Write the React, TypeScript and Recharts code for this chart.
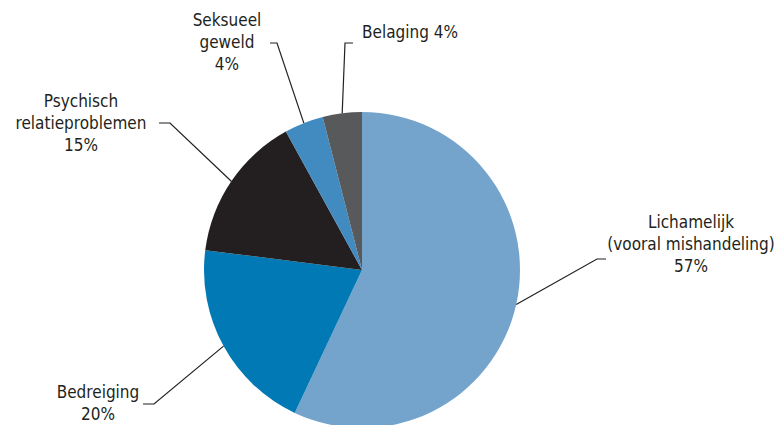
import React from "react";
import { PieChart, Pie, Cell } from "recharts";

const categories = ["Lichamelijk (vooral mishandeling)", "Bedreiging", "Psychisch relatieproblemen", "Seksueel geweld", "Belaging"];
const values = [57, 20, 15, 4, 4];
const labelLines = [
  ["Lichamelijk", "(vooral mishandeling)", "57%"],
  ["Bedreiging", "20%"],
  ["Psychisch", "relatieproblemen", "15%"],
  ["Seksueel", "geweld", "4%"],
  ["Belaging 4%"],
];
const colors = ["#74a4cc", "#0079b5", "#231f20", "#428bc1", "#58595b"];

// label layout relative to pie centre: elbow point, tick end x, text x, first line y, anchor
const labelLayout = [
  { ex: 235, ey: -11, tx: 244, lx: 329, ly: -48, anchor: "middle" },
  { ex: -208, ey: 134, tx: -219, lx: -264, ly: 122, anchor: "middle" },
  { ex: -192, ey: -147, tx: -203, lx: -281, ly: -169, anchor: "middle" },
  { ex: -85, ey: -227, tx: -92, lx: -135, ly: -250, anchor: "middle" },
  { ex: -17, ey: -227, tx: -9, lx: 0, ly: -238, anchor: "start" },
];

const data = categories.map((name, i) => ({ name, value: values[i] }));

const RAD = Math.PI / 180;
const FONT = "'Liberation Sans Narrow', 'DejaVu Sans Condensed', 'Arial Narrow', sans-serif";

const renderLabel = (props: any) => {
  const { cx, cy, midAngle, outerRadius, index } = props;
  const L = labelLayout[index];
  const sx = cx + outerRadius * Math.cos(-midAngle * RAD);
  const sy = cy + outerRadius * Math.sin(-midAngle * RAD);
  const ex = cx + L.ex;
  const ey = cy + L.ey;
  const tx = cx + L.tx;
  const lines = labelLines[index];
  return (
    <g key={`lbl-${index}`}>
      <polyline
        points={`${sx},${sy} ${ex},${ey} ${tx},${ey}`}
        fill="none"
        stroke="#231f20"
        strokeWidth={1.2}
      />
      <text
        x={cx + L.lx}
        y={cy + L.ly}
        textAnchor={L.anchor as any}
        dominantBaseline="central"
        fill="#231f20"
        fontSize={17}
        fontFamily={FONT}
      >
        {lines.map((t, k) => (
          <tspan key={k} x={cx + L.lx} dy={k === 0 ? 0 : 22}>
            {t}
          </tspan>
        ))}
      </text>
    </g>
  );
};

export default function App() {
  return (
    <div style={{ position: "absolute", left: 0, top: 0, width: 781, height: 425, background: "#fff" }}>
      <PieChart width={781} height={425} margin={{ top: 0, right: 0, bottom: 0, left: 0 }}>
        <Pie
          data={data}
          dataKey="value"
          nameKey="name"
          cx={362}
          cy={270}
          outerRadius={158}
          startAngle={90}
          endAngle={-270}
          stroke="none"
          label={renderLabel}
          labelLine={false}
          isAnimationActive={false}
        >
          {data.map((d, i) => (
            <Cell key={d.name} fill={colors[i]} />
          ))}
        </Pie>
      </PieChart>
    </div>
  );
}
